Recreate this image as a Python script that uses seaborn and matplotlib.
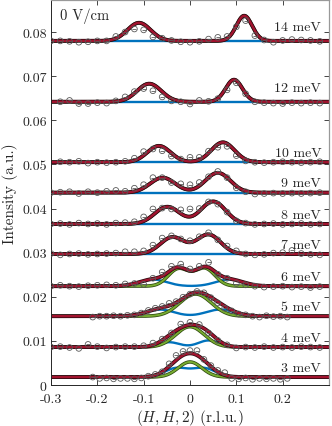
import numpy as np
import matplotlib
matplotlib.use('Agg')
import matplotlib.pyplot as plt
import matplotlib.patheffects as pe
import seaborn as sns

# energies (meV) and the vertical offset of each scan
energies = [3, 4, 5, 6, 7, 8, 9, 10, 12, 14]
offsets = [0.0018, 0.0086, 0.0156, 0.0224, 0.0297, 0.0365, 0.0436, 0.0505, 0.0642, 0.0780]

# measured points, intensity above the offset in units of 1e-3
h_full = [-0.30, -0.28, -0.26, -0.24, -0.22, -0.20, -0.18, -0.16, -0.14, -0.12,
          -0.10, -0.08, -0.06, -0.04, -0.02, 0.00, 0.02, 0.04, 0.06, 0.08,
          0.10, 0.12, 0.14, 0.16, 0.18, 0.20, 0.22, 0.24, 0.26, 0.28]
h_fine = [-0.210, -0.195, -0.180, -0.165, -0.150, -0.135, -0.120, -0.105, -0.090, -0.075,
          -0.060, -0.045, -0.030, -0.015, 0.000, 0.015, 0.030, 0.045, 0.060, 0.075,
          0.090, 0.105, 0.120, 0.135, 0.150, 0.165, 0.180, 0.195, 0.210]

int_3mev = [0.0, -0.3, -0.2, -0.4, -0.3, -0.3, -0.4, -0.2, 0.2, 0.6,
            1.2, 3.0, 4.9, 5.8, 6.0, 6.0, 4.0, 2.6, 1.5, 1.0,
            -0.3, -0.4, -0.2, -0.5, -0.3, -0.4, -0.3, -0.5, -0.3]
int_4mev = [0.0, 0.1, -0.1, -0.3, 0.6, 0.1, -0.2, 0.0, 0.1, 0.1,
            0.3, 0.9, 1.8, 3.2, 5.2, 5.6, 5.1, 3.2, 1.5, 0.5,
            -0.2, 0.0, -0.1, 0.1, -0.1, 0.0, -0.1, 0.1, 0.0, -0.1]
int_5mev = [-0.2, 0.0, 0.0, 0.1, 0.0, 0.2, 0.3, 0.7, 1.3, 1.8,
            2.2, 2.9, 3.3, 4.3, 5.0, 5.6, 5.3, 4.2, 3.0, 1.8,
            1.2, 0.5, 0.3, 0.0, -0.2, 0.1, -0.1, 0.0, -0.2]
int_6mev = [0.0, 0.2, 0.0, -0.1, 0.1, 0.2, 0.3, 0.2, 0.5, 0.6,
            0.4, 1.8, 3.2, 4.5, 5.0, 3.9, 4.5, 5.4, 2.7, 1.8,
            0.6, 0.3, 0.0, -0.2, -0.1, 0.0, -0.2, -0.1, -0.3, -0.1]
int_7mev = [0.1, -0.2, 0.0, 0.1, -0.1, 0.0, 0.1, 0.2, 0.5, 0.5,
            0.7, 2.0, 3.6, 4.1, 3.4, 3.0, 3.9, 4.8, 3.2, 1.8,
            0.7, 0.0, -0.2, -0.1, 0.2, 0.3, 0.8, 0.1, -0.1, -0.2]
int_8mev = [0.0, 0.1, -0.1, 0.2, 0.0, 0.1, -0.1, 0.2, 0.3, 0.5,
            1.6, 3.4, 3.6, 3.4, 3.2, 3.4, 3.5, 5.0, 4.5, 2.7,
            0.7, 0.2, -0.1, 0.0, 0.1, -0.1, 0.0, 0.1, -0.1, 0.0]
int_9mev = [0.0, 0.1, 0.2, -0.2, 0.2, 0.0, 0.3, 0.5, 0.3, 1.0,
            1.8, 3.4, 3.4, 2.3, 2.0, 1.8, 2.3, 3.6, 4.8, 3.4,
            1.1, 0.2, -0.3, -0.2, -0.1, -0.2, -0.1, -0.2, -0.1, 0.0]
int_10mev = [np.nan, 0.1, 0.0, 0.2, -0.2, 0.0, -0.1, 0.0, 0.2, 0.9,
             2.4, 3.0, 2.6, 1.4, 0.7, 1.1, 1.1, 2.5, 3.4, 3.6,
             1.5, 0.3, 0.0, -0.1, 0.0, 0.1, 0.0, -0.1, 0.0, 0.1]
int_12mev = [np.nan, 0.0, 0.3, -0.4, -0.4, -0.2, -0.3, 0.2, 1.1, 2.3,
             3.0, 2.5, 1.1, 0.2, 0.0, -0.5, 0.3, 0.1, 0.7, 2.7,
             4.3, 1.8, 0.0, -0.2, -0.3, -0.4, -0.2, -0.3, -0.2, -0.3]
int_14mev = [0.0, 0.0, -0.1, -0.3, -0.2, 0.0, 0.0, 1.0, 2.0, 2.7,
             2.5, 0.9, 0.6, 0.1, -0.2, -0.3, -0.1, 0.4, 0.8, 1.0,
             3.2, 4.6, 1.2, 0.2, -0.3, 0.1, 0.3, 0.2, 0.1, -0.1]

scan_h = [h_fine, h_full, h_fine, h_full, h_full, h_full, h_full, h_full, h_full, h_full]
scan_int = [int_3mev, int_4mev, int_5mev, int_6mev, int_7mev,
            int_8mev, int_9mev, int_10mev, int_12mev, int_14mev]

# fitted magnon pair (green), 1e-3 units
mag_cl = [-0.005, -0.010, -0.002, -0.025, -0.038, -0.049, -0.059, -0.067, -0.088, -0.110]
mag_al = [1.75, 2.45, 2.8, 3.9, 3.8, 3.9, 3.4, 3.7, 4.1, 4.1]
mag_sl = [0.025, 0.029, 0.030, 0.022, 0.026, 0.027, 0.027, 0.025, 0.026, 0.025]
mag_cr = [0.005, 0.010, 0.026, 0.032, 0.040, 0.050, 0.060, 0.071, 0.095, 0.117]
mag_ar = [1.75, 2.45, 2.8, 4.0, 4.4, 5.1, 4.5, 4.5, 5.0, 5.7]
mag_sr = [0.025, 0.029, 0.030, 0.022, 0.026, 0.027, 0.027, 0.025, 0.018, 0.017]

# second fitted pair (blue), only at low energy
bg_cl = [-0.030, -0.045, -0.065, -0.080, 0, 0, 0, 0, 0, 0]
bg_cr = [0.030, 0.040, 0.065, 0.085, 0, 0, 0, 0, 0, 0]
bg_al = [2.0, 1.1, 1.5, 1.5, 0, 0, 0, 0, 0, 0]
bg_ar = [2.0, 1.5, 1.5, 1.5, 0, 0, 0, 0, 0, 0]
bg_s = [0.025, 0.022, 0.030, 0.030, 0.03, 0.03, 0.03, 0.03, 0.03, 0.03]

RED = '#A2142F'
BLUE = '#0072BD'
GREEN = '#77AC30'


def gauss(h, c, a, s):
    return a * 1e-3 * np.exp(-(h - c) ** 2 / (2 * s ** 2))


sns.set_theme(style='ticks')
plt.rcParams['font.family'] = ['cmr10', 'DejaVu Serif']
plt.rcParams['mathtext.fontset'] = 'cm'
plt.rcParams['axes.unicode_minus'] = False
plt.rcParams['axes.formatter.use_mathtext'] = True

fig = plt.figure(figsize=(3.32, 4.27), dpi=100)
ax = fig.add_axes([0.1536, 0.096, 0.8374, 0.902])

h_fit = np.linspace(-0.3, 0.3, 301)
outline = [pe.Stroke(linewidth=2.8, foreground='#2a0a10'), pe.Normal()]
outline_g = [pe.Stroke(linewidth=2.5, foreground='#2f4a10'), pe.Normal()]

for i, e in enumerate(energies):
    base = offsets[i]
    mag = gauss(h_fit, mag_cl[i], mag_al[i], mag_sl[i]) + gauss(h_fit, mag_cr[i], mag_ar[i], mag_sr[i])
    extra = gauss(h_fit, bg_cl[i], bg_al[i], bg_s[i]) + gauss(h_fit, bg_cr[i], bg_ar[i], bg_s[i])

    sns.lineplot(x=h_fit, y=base + extra, ax=ax, color=BLUE, lw=1.7, sort=False, estimator=None)
    sns.lineplot(x=h_fit, y=base + mag, ax=ax, color=GREEN, lw=1.4, sort=False,
                 estimator=None, path_effects=outline_g)
    sns.lineplot(x=h_fit, y=base + mag + extra, ax=ax, color=RED, lw=1.7, sort=False,
                 estimator=None, path_effects=outline)

    y_pts = base + np.array(scan_int[i]) * 1e-3
    sns.scatterplot(x=scan_h[i], y=y_pts, ax=ax, marker='o', s=17, facecolor='none',
                    edgecolor='0.35', linewidth=0.6, zorder=5)
    sns.scatterplot(x=scan_h[i], y=y_pts, ax=ax, marker='_', s=7, color='0.35',
                    linewidth=0.6, zorder=5)

    dy = 0.0031 if e >= 12 else 0.0021
    ax.text(0.283, base + dy, f'{e} meV', ha='right', va='center', fontsize=10, zorder=6)

ax.text(-0.281, 0.0837, '0 V/cm', ha='left', va='center', fontsize=10.5)

ax.set_xlim(-0.3, 0.3)
ax.set_ylim(0, 0.0873)
ax.set_xticks([-0.3, -0.2, -0.1, 0, 0.1, 0.2])
ax.set_xticklabels(['-0.3', '-0.2', '-0.1', '0', '0.1', '0.2'])
ax.set_yticks([0, 0.01, 0.02, 0.03, 0.04, 0.05, 0.06, 0.07, 0.08])
ax.set_yticklabels(['0', '0.01', '0.02', '0.03', '0.04', '0.05', '0.06', '0.07', '0.08'])
ax.tick_params(direction='in', length=3.5, width=0.6, top=True, right=True,
               labelsize=10, colors='0.15', pad=3)
ax.tick_params(axis='x', pad=6)
for side in ['left', 'bottom']:
    ax.spines[side].set_color('0.15')
    ax.spines[side].set_linewidth(0.7)
for side in ['top', 'right']:
    ax.spines[side].set_visible(True)
    ax.spines[side].set_color('0.6')
    ax.spines[side].set_linewidth(0.9)

ax.set_xlabel('$(H,H,2)$ (r.l.u.)', fontsize=11, labelpad=1)
ax.set_ylabel('Intensity (a.u.)', fontsize=11, labelpad=3)

fig.savefig('out.png', dpi=100)
